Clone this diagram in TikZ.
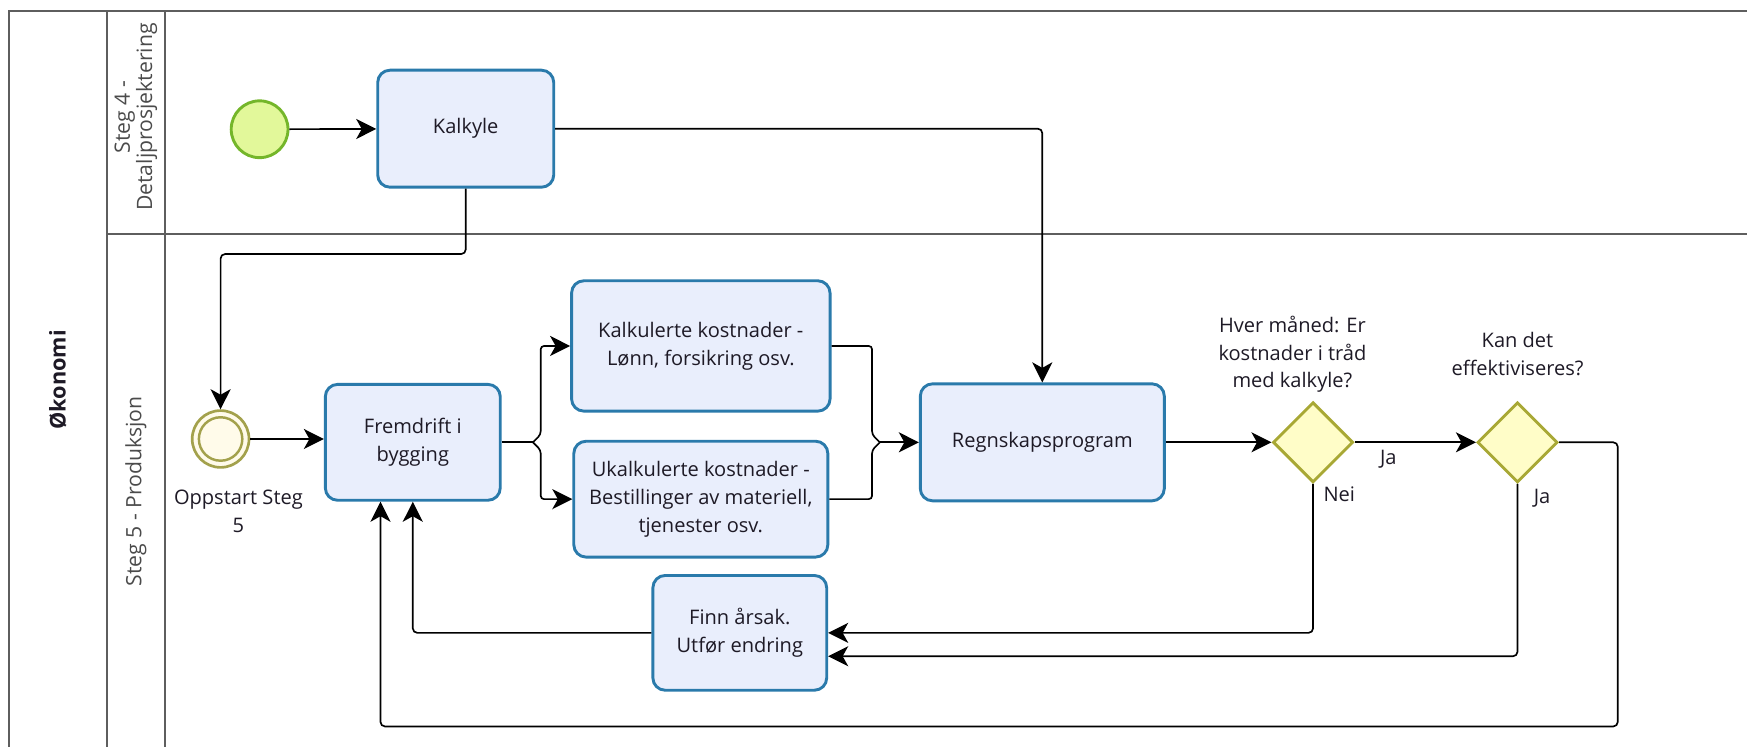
\documentclass[tikz,border=0pt]{standalone}
\usepackage{fontspec}
\setmainfont{Open Sans}
\usetikzlibrary{arrows.meta,shapes.geometric}

\definecolor{taskfill}{HTML}{E9EEFC}
\definecolor{taskline}{HTML}{2A7AAB}
\definecolor{startfill}{HTML}{E2F89A}
\definecolor{startline}{HTML}{74B62A}
\definecolor{midfill}{HTML}{FFFBEA}
\definecolor{midline}{HTML}{A3A14C}
\definecolor{gatefill}{HTML}{FFFDC8}
\definecolor{gateline}{HTML}{A8A835}
\definecolor{laneline}{HTML}{5E5E5E}
\definecolor{txt}{HTML}{1E1A26}

\begin{document}
\begin{tikzpicture}[x=1pt,y=-1pt,
  every node/.style={text=txt},
  body/.style={font=\fontsize{18}{25}\selectfont},
  task/.style={body, rectangle, rounded corners=11pt, draw=taskline, fill=taskfill,
    line width=2.6pt, align=center, inner sep=0pt},
  gate/.style={diamond, draw=gateline, fill=gatefill, line width=2.6pt,
    minimum width=72pt, minimum height=72pt, inner sep=0pt, aspect=1},
  lbl/.style={body, align=center, inner sep=0pt},
  lanetxt/.style={font=\fontsize{19}{20}\selectfont, text=laneline!80!black, align=center, rotate=90, inner sep=0pt},
  wire/.style={line width=1.5pt, draw=black, rounded corners=4pt},
  flow/.style={wire, -{Stealth[length=18pt, width=18pt, inset=5pt]}},
  lane/.style={line width=1.8pt, draw=laneline}
]
\useasboundingbox (0,0) rectangle (1568,670);

% pool and lanes
\begin{scope}
  \clip (0,0) rectangle (1568,670);
  \draw[lane] (1590,10) -- (8,10) -- (8,690);
  \draw[lane] (96,10) -- (96,690);
  \draw[lane] (148,10) -- (148,690);
  \draw[lane] (96,210) -- (1590,210);
\end{scope}
\node[font=\fontsize{19.5}{24}\selectfont\bfseries, rotate=90, inner sep=0pt] (pool) at (52,341) {Økonomi};
\node[lanetxt] (lane4) at (122,105) {Steg 4 -\\Detaljprosjektering};
\node[lanetxt] (lane5) at (122,441) {Steg 5 - Produksjon};

% events
\node[circle, draw=startline, fill=startfill, line width=2.6pt, minimum size=51pt, inner sep=0pt] (start) at (233,116) {};
\node[circle, draw=midline, fill=midfill, line width=2.4pt, minimum size=51pt, inner sep=0pt] (opp) at (198,394) {};
\draw[midline, line width=2.2pt] (opp.center) circle (19.5);
\node[lbl] (opplbl) at (214,459) {Oppstart Steg\\5};

% tasks
\node[task, minimum width=158pt, minimum height=105pt] (kalkyle) at (418,115.5) {Kalkyle};
\node[task, minimum width=157pt, minimum height=104pt] (frem) at (370.5,397) {Fremdrift i\\bygging};
\node[task, minimum width=232pt, minimum height=117pt] (kost) at (629,310.5) {Kalkulerte kostnader -\\Lønn, forsikring osv.};
\node[task, minimum width=228pt, minimum height=104pt] (ukost) at (629,448) {Ukalkulerte kostnader -\\Bestillinger av materiell,\\tjenester osv.};
\node[task, minimum width=219pt, minimum height=105pt] (regn) at (935.5,397) {Regnskapsprogram};
\node[task, minimum width=156pt, minimum height=103pt] (finn) at (664,568) {Finn årsak.\\Utfør endring};

% gateways
\node[gate] (g1) at (1178.5,397) {};
\node[gate] (g2) at (1362,397) {};
\node[lbl] (g1lbl) at (1160,318) {Hver måned: Er\\kostnader i tråd\\med kalkyle?};
\node[lbl] (g2lbl) at (1362,318) {Kan det\\effektiviseres?};
\node[lbl] (ja1) at (1246,412) {Ja};
\node[lbl] (nei) at (1202,444) {Nei};
\node[lbl] (ja2) at (1384,447) {Ja};

% sequence flows
\draw[flow] (start) -- (kalkyle);
\draw[flow] (kalkyle.east) -| (regn.north);
\draw[flow] (kalkyle.south) -- (kalkyle.south |- 0,228) -| (opp.north);
\draw[flow] (opp.east) -- (opp.east -| frem.west);

% fork towards the two cost tasks
\coordinate (fk) at ([xshift=28pt]frem.east);
\draw[wire] (frem.east) -- (fk);
\draw[flow, rounded corners=3pt] (fk) -- ([xshift=7pt,yshift=7pt]fk) |- (kost.west);
\draw[flow, rounded corners=3pt] (fk) -- ([xshift=7pt,yshift=-7pt]fk) |- (ukost.west);

% merge into the accounting program
\coordinate (mg) at ([xshift=-35pt]regn.west);
\draw[flow] (mg) -- (regn.west);
\draw[wire, rounded corners=3pt] (kost.east) -| ([xshift=-7pt,yshift=7pt]mg) -- (mg);
\draw[wire, rounded corners=3pt] (ukost.east) -| ([xshift=-7pt,yshift=-7pt]mg) -- (mg);

\draw[flow] (regn.east) -- (g1.west);
\draw[flow] (g1.east) -- (g2.west);
\draw[flow] (g1.south) |- (finn.east);
\draw[flow] (g2.south) |- ([yshift=-21pt]finn.east);
\coordinate (loop) at (1452,652);
\draw[flow] (g2.east) -| (loop) -| ([xshift=-29pt]frem.south);
\draw[flow] (finn.west) -| (frem.south);
\end{tikzpicture}
\end{document}
